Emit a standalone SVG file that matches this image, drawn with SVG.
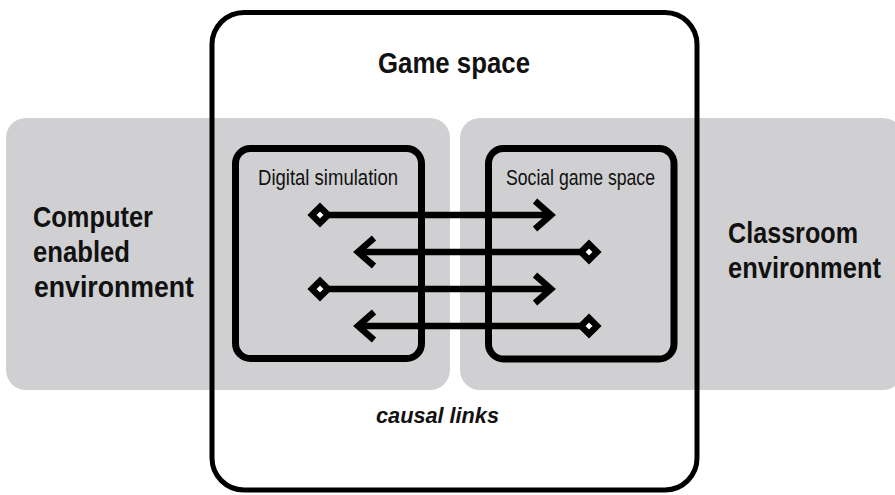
<svg xmlns="http://www.w3.org/2000/svg" width="895" height="495" viewBox="0 0 895 495">
<style>
.panel{fill:#d0d0d2;stroke:none}
.box{fill:none;stroke:#000}
.lbl{font-family:"Liberation Sans",Arial,sans-serif;fill:#111}
.big{font-weight:bold;font-size:30px}
.small{font-size:22px}
.link{stroke:#000;stroke-width:6.5;fill:none}
.head{stroke:#000;stroke-width:6.5;fill:none;stroke-linejoin:miter}
.dia{fill:#fff;stroke:#000;stroke-width:6.5}
</style>
<rect width="895" height="495" fill="#fff"/>
<g id="computer-env">
<rect class="panel" x="6" y="118" width="444" height="272" rx="20"/>
<text class="lbl big" x="33" y="227" textLength="120" lengthAdjust="spacingAndGlyphs">Computer</text>
<text class="lbl big" x="33" y="262" textLength="97" lengthAdjust="spacingAndGlyphs">enabled</text>
<text class="lbl big" x="34" y="297" textLength="160" lengthAdjust="spacingAndGlyphs">environment</text>
</g>
<g id="classroom-env">
<rect class="panel" x="460" y="118" width="443" height="272" rx="20"/>
<text class="lbl big" x="728" y="243" textLength="130" lengthAdjust="spacingAndGlyphs">Classroom</text>
<g transform="translate(728,278) scale(0.85,1)">
<text class="lbl big" x="0" y="0">environment</text>
</g>
</g>
<g id="game-space">
<rect class="box" x="212" y="12.5" width="485" height="477.5" rx="32" stroke-width="5"/>
<text class="lbl" x="378" y="73" font-size="29" font-weight="bold" textLength="152" lengthAdjust="spacingAndGlyphs">Game space</text>
<text class="lbl" x="376" y="423" font-size="22" font-weight="bold" font-style="italic" textLength="123" lengthAdjust="spacingAndGlyphs">causal links</text>
</g>
<g id="digital-simulation">
<rect class="box" x="235.5" y="148.5" width="186" height="210" rx="15" stroke-width="7"/>
<text class="lbl small" x="258" y="185" textLength="140" lengthAdjust="spacingAndGlyphs">Digital simulation</text>
</g>
<g id="social-game-space">
<rect class="box" x="488.5" y="148.5" width="185.5" height="210.5" rx="15" stroke-width="7"/>
<text class="lbl small" x="506" y="185" textLength="149" lengthAdjust="spacingAndGlyphs">Social game space</text>
</g>
<g id="connectors">
<line class="link" x1="320" y1="215" x2="548" y2="215"/>
<polyline class="head" points="535,201 551,215 535,229"/>
<polygon class="dia" points="320,207 328,215 320,223 312,215"/>

<line class="link" x1="361" y1="252" x2="589" y2="252"/>
<polyline class="head" points="374,238 358,252 374,266"/>
<polygon class="dia" points="589,244 597,252 589,260 581,252"/>

<line class="link" x1="320" y1="289" x2="548" y2="289"/>
<polyline class="head" points="535,275 551,289 535,303"/>
<polygon class="dia" points="320,281 328,289 320,297 312,289"/>

<line class="link" x1="361" y1="326" x2="589" y2="326"/>
<polyline class="head" points="374,312 358,326 374,340"/>
<polygon class="dia" points="589,318 597,326 589,334 581,326"/>
</g>
</svg>
